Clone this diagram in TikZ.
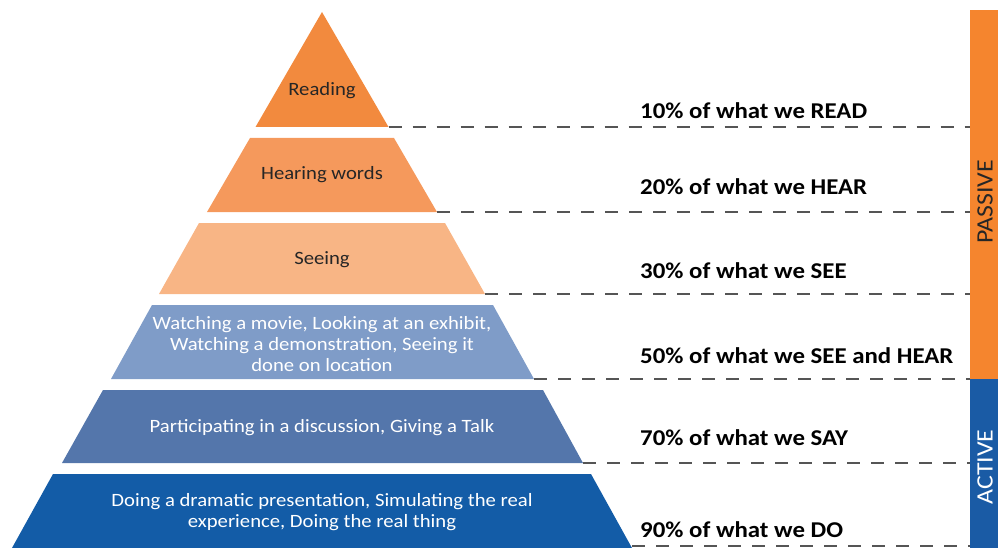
\documentclass[tikz,border=0pt]{standalone}
\usepackage{fontspec}
\setmainfont[FakeStretch=1.1]{Carlito}
\definecolor{readc}{HTML}{F28A3E}
\definecolor{hearc}{HTML}{F5995C}
\definecolor{seec}{HTML}{F8B585}
\definecolor{watchc}{HTML}{7F9CC8}
\definecolor{partc}{HTML}{5476AB}
\definecolor{doc}{HTML}{135CA7}
\definecolor{barorange}{HTML}{F5852E}
\definecolor{barblue}{HTML}{1A5BA5}
\definecolor{dashc}{HTML}{555555}
\tikzset{
  intext/.style={font=\fontsize{18.8}{21}\selectfont, align=center, inner sep=0pt},
  pct/.style={font=\fontsize{22.6}{24}\selectfont\bfseries, anchor=west, inner sep=0pt, text=black},
  sep/.style={draw=dashc, line width=1.2pt, dash pattern=on 13pt off 11pt},
  side/.style={font=\fontsize{23.5}{26}\selectfont, rotate=90, inner sep=0pt}
}
\begin{document}
\begin{tikzpicture}[x=1pt,y=-1pt]
\useasboundingbox (0,0) rectangle (998,548);
% side bar
\fill[barorange] (970,10) rectangle (998,379);
\fill[barblue] (970,379) rectangle (998,548);
\node[side, text=black!85] (passive) at (985,202) {PASSIVE};
\node[side, text=white] (active) at (985,467) {ACTIVE};
% layers
\fill[readc] (322,12) -- (388.5,127) -- (255.5,127) -- cycle;
\fill[hearc] (250,138) -- (394,138) -- (437,212) -- (207,212) -- cycle;
\fill[seec] (199,223) -- (445,223) -- (485,294) -- (159,294) -- cycle;
\fill[watchc] (152,305) -- (493,305) -- (534,379) -- (111,379) -- cycle;
\fill[partc] (103,390) -- (543,390) -- (583,463) -- (62,463) -- cycle;
\fill[doc] (53,474) -- (591,474) -- (632,548) -- (12,548) -- cycle;
% corners for dashed lines
\coordinate (r1) at (388.5,127);
\coordinate (r2) at (437,212);
\coordinate (r3) at (485,294);
\coordinate (r4) at (534,379);
\coordinate (r5) at (583,463);
\coordinate (r6) at (632,546);
\coordinate (b1) at (970,127);
\coordinate (b2) at (970,212);
\coordinate (b3) at (970,294);
\coordinate (b4) at (970,379);
\coordinate (b5) at (970,463);
\coordinate (b6) at (970,546);
\draw[sep] (r1) -- (b1);
\draw[sep] (r2) -- (b2);
\draw[sep] (r3) -- (b3);
\draw[sep] (r4) -- (b4);
\draw[sep] (r5) -- (b5);
\draw[sep] (r6) -- (b6);
% inner texts
\node[intext, text=black!85] (reading) at (322,91) {Reading};
\node[intext, text=black!85] (hearing) at (322,175) {Hearing words};
\node[intext, text=black!85] (seeing) at (322,260) {Seeing};
\node[intext, text=white] (watching) at (322,344) {Watching a movie, Looking at an exhibit,\\Watching a demonstration, Seeing it\\done on location};
\node[intext, text=white] (partic) at (322,428) {Participating in a discussion, Giving a Talk};
\node[intext, text=white] (doing) at (322,512) {Doing a dramatic presentation, Simulating the real\\experience, Doing the real thing};
% percentages
\node[pct] (p10) at (640,111) {10\% of what we READ};
\node[pct] (p20) at (640,187) {20\% of what we HEAR};
\node[pct] (p30) at (640,271) {30\% of what we SEE};
\node[pct] (p50) at (640,356) {50\% of what we SEE and HEAR};
\node[pct] (p70) at (640,438) {70\% of what we SAY};
\node[pct] (p90) at (640,530) {90\% of what we DO};
\end{tikzpicture}
\end{document}
